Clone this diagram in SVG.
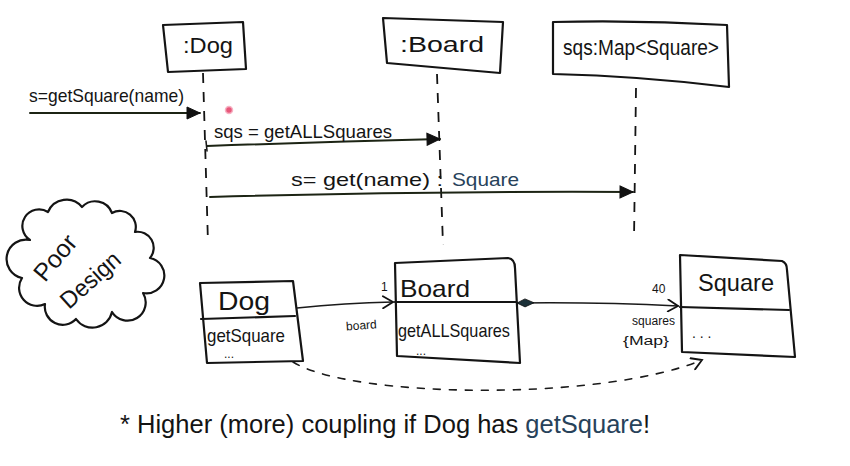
<svg xmlns="http://www.w3.org/2000/svg" width="850" height="466" viewBox="0 0 850 466">
<style>
  .box { fill: none; stroke: #141414; stroke-width: 2.2; stroke-linejoin: round; stroke-linecap: round; }
  .life { fill: none; stroke: #141414; stroke-width: 1.8; stroke-dasharray: 10 9; }
  .msg { fill: none; stroke: #1c2414; stroke-width: 2; stroke-linecap: round; }
  .thin { fill: none; stroke: #1a1a1a; stroke-width: 1.6; stroke-linecap: round; }
  .dash { fill: none; stroke: #1a1a1a; stroke-width: 1.6; stroke-dasharray: 7 9; stroke-linecap: round; }
  text { font-family: "Liberation Sans", "DejaVu Sans", sans-serif; fill: #141414; }
  .t22 { font-size: 22px; }
  .t19 { font-size: 19px; }
  .t12 { font-size: 12px; }
  .big { font-size: 25.5px; }
  .blue { fill: #27425a; }
</style>
<defs>
  <marker id="filled" markerUnits="userSpaceOnUse" markerWidth="16" markerHeight="14" refX="14" refY="7" orient="auto">
    <path d="M1,1 L14,7 L1,13 Z" fill="#111" stroke="#111" stroke-width="1"/>
  </marker>
  <marker id="open" markerUnits="userSpaceOnUse" markerWidth="14" markerHeight="14" refX="12" refY="7" orient="auto">
    <path d="M2,1 L12,7 L2,13" fill="none" stroke="#111" stroke-width="1.8" stroke-linecap="round"/>
  </marker>
  <marker id="diamond" markerUnits="userSpaceOnUse" markerWidth="20" markerHeight="10" refX="1" refY="5" orient="auto">
    <path d="M1,5 L9,1 L18,5 L9,9 Z" fill="#1b3038" stroke="#111" stroke-width="0.8"/>
  </marker>
</defs>

<!-- sequence diagram lifeline heads -->
<g id="dog-lifeline">
  <path class="box" d="M163,25 L243,22 L246,69 L168,72 Z"/>
  <text class="t22" x="183" y="53" textLength="50" lengthAdjust="spacingAndGlyphs">:Dog</text>
</g>
<g id="board-lifeline">
  <path class="box" d="M383,18 L503,22 L500,73 L387,63 Z"/>
  <text class="t22" x="400" y="52" textLength="84" lengthAdjust="spacingAndGlyphs">:Board</text>
</g>
<g id="map-lifeline">
  <path class="box" d="M553,22 Q640,20 727,25 L729,87 Q640,76 553,74 Z"/>
  <text class="t22" x="563" y="55" textLength="156" lengthAdjust="spacingAndGlyphs">sqs:Map&lt;Square&gt;</text>
</g>

<!-- cloud note -->
<g id="poor-design">
  <path class="box" d="M30,240 A16,16 0 0 1 48,212 A20,20 0 0 1 82,207 A18,18 0 0 1 112,213 A16,16 0 0 1 135,232 A16,16 0 0 1 150,258 A17,17 0 0 1 143,293 A18,18 0 0 1 112,312 A20,20 0 0 1 76,319 A18,18 0 0 1 45,304 A18,18 0 0 1 22,278 A18,18 0 0 1 30,240 Z"/>
  <text transform="translate(45,283) rotate(-50)" font-size="25" textLength="52" lengthAdjust="spacingAndGlyphs">Poor</text>
  <text transform="translate(69,310) rotate(-42)" font-size="24" textLength="72" lengthAdjust="spacingAndGlyphs">Design</text>
</g>

<!-- class diagram -->
<g id="dog-class">
  <path class="box" d="M200,283 L293,281 L303,361 L207,363 Z"/>
  <path class="box" d="M201,319 L295,316"/>
  <text x="218" y="310" font-size="26" textLength="52" lengthAdjust="spacingAndGlyphs">Dog</text>
  <text class="t19" x="207" y="342" textLength="78" lengthAdjust="spacingAndGlyphs">getSquare</text>
  <text x="224" y="358" font-size="12">...</text>
</g>
<g id="board-class">
  <path class="box" d="M395,263 L508,258 Q515,259 515,268 L520,363 L397,356 Z"/>
  <path class="box" d="M395,302 L516,302"/>
  <text x="400" y="297" font-size="24" textLength="70" lengthAdjust="spacingAndGlyphs">Board</text>
  <text class="t19" x="398" y="337" textLength="112" lengthAdjust="spacingAndGlyphs">getALLSquares</text>
  <text x="416" y="355" font-size="12">...</text>
</g>
<g id="square-class">
  <path class="box" d="M680,255 L782,261 Q787,263 787,270 L795,357 L682,352 Z"/>
  <path class="box" d="M680,307 L789,310"/>
  <text x="698" y="291" font-size="24" textLength="76" lengthAdjust="spacingAndGlyphs">Square</text>
  <text x="692" y="338" font-size="14">. . .</text>
</g>

<!-- connectors -->
<g id="connectors">
  <path class="life" d="M203,73 L208,243"/>
  <path class="life" d="M437,74 L443,245"/>
  <path class="life" d="M636,88 L634,240"/>

  <path class="msg" d="M30,113 L200,113" marker-end="url(#filled)"/>
  <text class="t19" x="29" y="102" textLength="155" lengthAdjust="spacingAndGlyphs">s=getSquare(name)</text>

  <path class="msg" d="M207,146 Q320,142 440,139" marker-end="url(#filled)"/>
  <path class="thin" d="M206,141 L207,151"/>
  <text class="t19" x="214" y="138" textLength="178" lengthAdjust="spacingAndGlyphs">sqs = getALLSquares</text>

  <path class="msg" d="M210,197 Q420,191 633,192" marker-end="url(#filled)"/>
  <text class="t19" x="291" y="186" textLength="152" lengthAdjust="spacingAndGlyphs">s= get(name) :</text>
  <text class="t19 blue" x="452" y="186" textLength="67" lengthAdjust="spacingAndGlyphs">Square</text>

  <path class="thin" d="M297,308 Q345,303 393,302" marker-end="url(#open)"/>
  <text class="t12" x="381" y="291">1</text>
  <text class="t12" x="346" y="329" transform="rotate(-4 366 325)">board</text>

  <path class="thin" d="M517,303 Q600,302 678,306" marker-start="url(#diamond)" marker-end="url(#open)"/>
  <text class="t12" x="652" y="293">40</text>
  <text class="t12" x="632" y="325" textLength="43" lengthAdjust="spacingAndGlyphs">squares</text>
  <text class="t12" x="623" y="345" textLength="46" lengthAdjust="spacingAndGlyphs">{Map}</text>

  <path class="dash" d="M293,362 C350,398 600,402 702,360" marker-end="url(#open)"/>
</g>

<!-- laser pointer dot -->
<circle cx="229" cy="110" r="3.5" fill="#e8577a" stroke="#f6b3c4" stroke-width="1.5"/>

<text class="big" x="120" y="433">* Higher (more) coupling if Dog has <tspan class="blue">getSquare</tspan>!</text>
</svg>
